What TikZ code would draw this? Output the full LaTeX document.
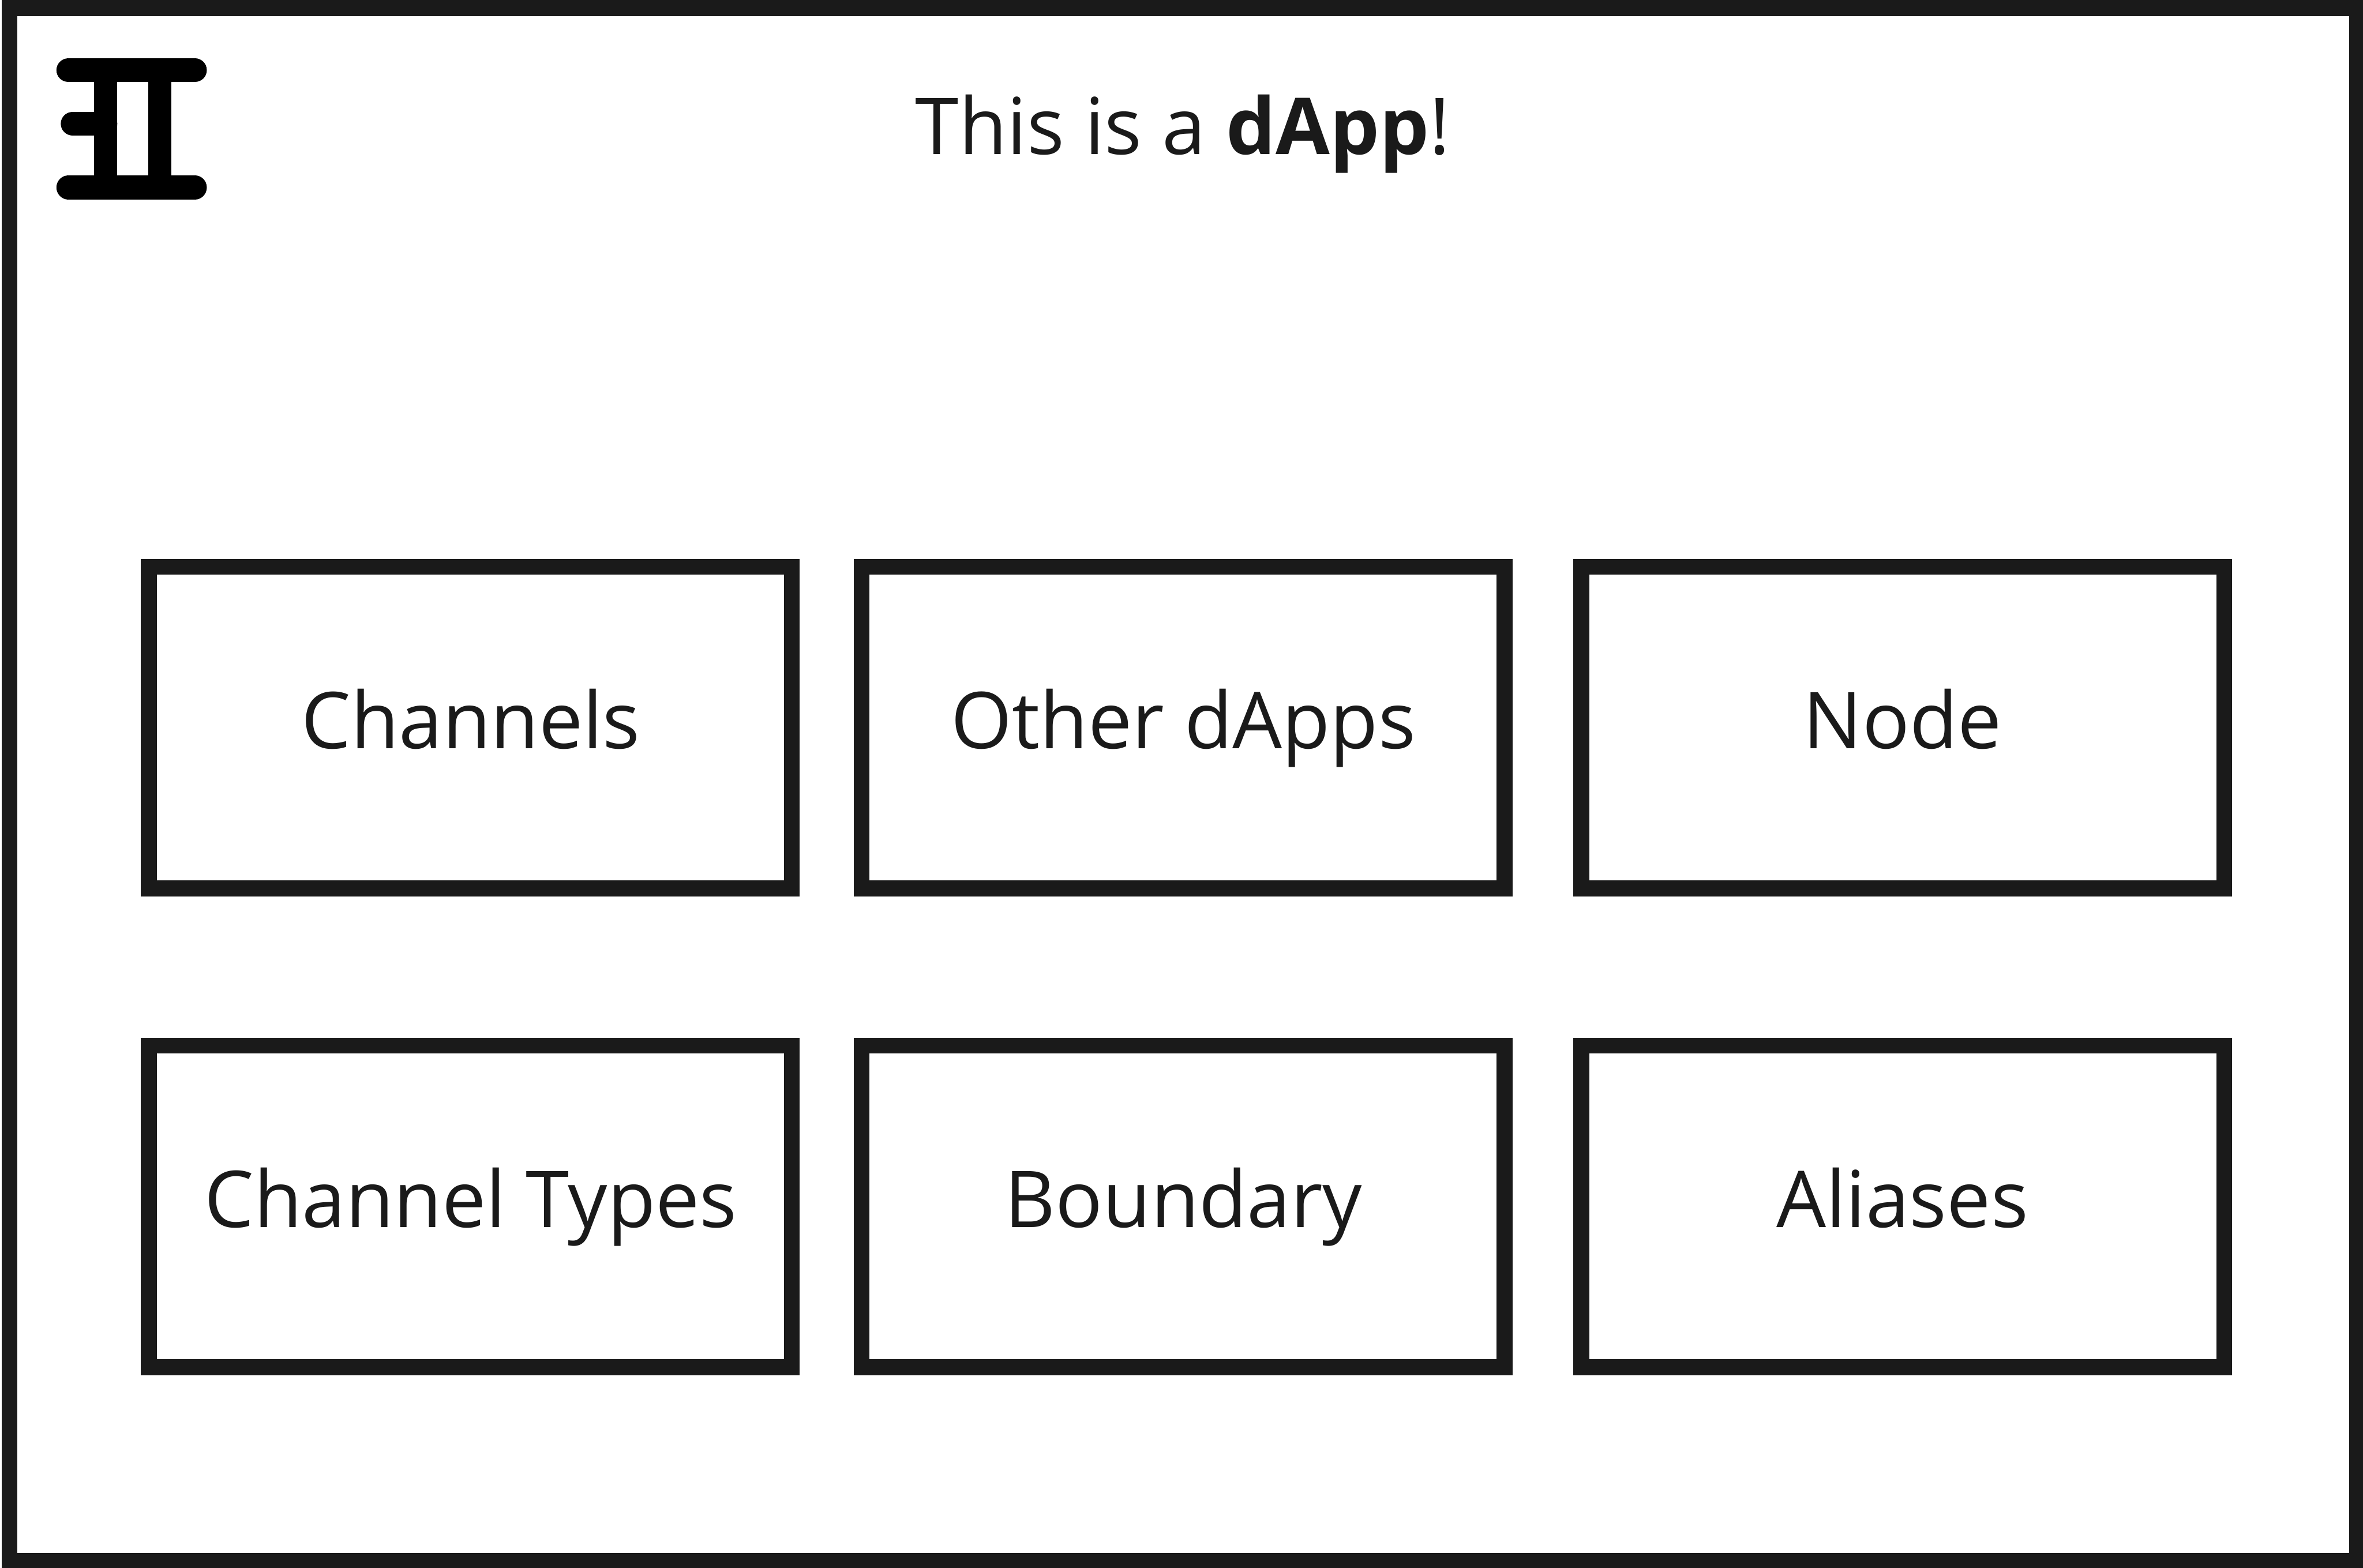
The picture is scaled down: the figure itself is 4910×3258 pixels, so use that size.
\documentclass[tikz,border=0pt]{standalone}
\usepackage{fontspec}
\setmainfont{Open Sans}
\definecolor{ink}{HTML}{1A1A1A}
\tikzset{
  x=0.1pt,y=-0.1pt,
  panel/.style={draw=ink,line width=3.3pt,fill=white,sharp corners},
  label/.style={text=ink,font=\fontsize{16.3pt}{20pt}\selectfont,inner sep=0pt,anchor=base},
  logo/.style={line width=4.95pt,line cap=round,draw=black},
  logostem/.style={line width=4.8pt,line cap=butt,draw=black}
}
\begin{document}
\begin{tikzpicture}
\useasboundingbox (0,0) rectangle (4910,3258);
\fill[white] (0,0) rectangle (4910,3258);
\draw[ink,line width=3.3pt] (19.5,17) rectangle (4897.5,3243.5);
\draw[panel] (309.5,1178) rectangle (1645.5,1846);
\draw[panel] (1790.5,1178) rectangle (3126.5,1846);
\draw[panel] (3285.5,1178) rectangle (4621.5,1846);
\draw[panel] (309.5,2173) rectangle (1645.5,2841);
\draw[panel] (1790.5,2173) rectangle (3126.5,2841);
\draw[panel] (3285.5,2173) rectangle (4621.5,2841);
\coordinate (a1) at (142,146); \coordinate (a2) at (405,146);
\coordinate (b1) at (142,389.5); \coordinate (b2) at (405,389.5);
\coordinate (c1) at (151,257); \coordinate (c2) at (219,257);
\coordinate (d1) at (219,146); \coordinate (d2) at (219,389.5);
\coordinate (e1) at (332.5,146); \coordinate (e2) at (332.5,389.5);
\draw[logo] (a1) -- (a2);
\draw[logo] (b1) -- (b2);
\draw[logo] (c1) -- (c2);
\draw[logostem] (d1) -- (d2);
\draw[logostem] (e1) -- (e2);
\node[label] (title) at (2458,321) {This is a \textbf{dApp}!};
\node[label] (n1) at (978,1555) {Channels};
\node[label] (n2) at (2459,1555) {Other dApps};
\node[label] (n3) at (3953,1555) {Node};
\node[label] (n4) at (978,2550) {Channel Types};
\node[label] (n5) at (2459,2550) {Boundary};
\node[label] (n6) at (3953,2550) {Aliases};
\end{tikzpicture}
\end{document}
